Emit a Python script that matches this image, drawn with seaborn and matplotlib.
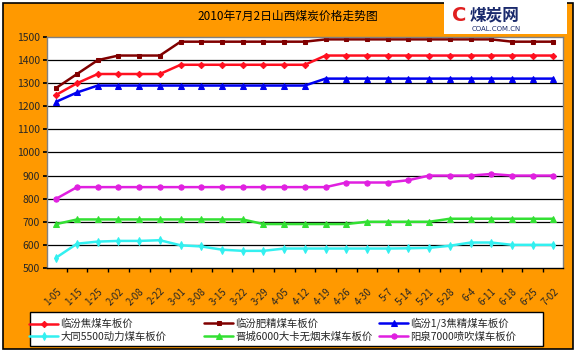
import matplotlib
matplotlib.use("Agg")
import matplotlib.pyplot as plt
import seaborn as sns
import pandas as pd
from matplotlib.patches import Rectangle

dates = ["1-05", "1-15", "1-25", "2-02", "2-08", "2-22", "3-01", "3-08", "3-15", "3-22",
         "3-29", "4-05", "4-12", "4-19", "4-26", "4-30", "5-7", "5-14", "5-21", "5-28",
         "6-4", "6-11", "6-18", "6-25", "7-02"]

linfen_jiao = [1250, 1300, 1340, 1340, 1340, 1340, 1380, 1380, 1380, 1380, 1380, 1380, 1380,
               1420, 1420, 1420, 1420, 1420, 1420, 1420, 1420, 1420, 1420, 1420, 1420]
linfen_fei = [1280, 1340, 1400, 1420, 1420, 1420, 1480, 1480, 1480, 1480, 1480, 1480, 1480,
              1490, 1490, 1490, 1490, 1490, 1490, 1490, 1490, 1490, 1480, 1480, 1480]
linfen_13 = [1220, 1260, 1290, 1290, 1290, 1290, 1290, 1290, 1290, 1290, 1290, 1290, 1290,
             1320, 1320, 1320, 1320, 1320, 1320, 1320, 1320, 1320, 1320, 1320, 1320]
datong = [545, 605, 614, 617, 617, 620, 598, 593, 579, 574, 574, 584, 584,
          584, 584, 584, 584, 585, 587, 596, 610, 610, 600, 600, 600]
jincheng = [690, 710, 710, 710, 710, 710, 710, 710, 710, 710, 690, 690, 690,
            690, 690, 700, 700, 700, 700, 713, 713, 713, 713, 713, 713]
yangquan = [800, 850, 850, 850, 850, 850, 850, 850, 850, 850, 850, 850, 850,
            850, 870, 870, 870, 880, 900, 900, 900, 907, 900, 900, 900]

series_names = ["临汾焦煤车板价", "临汾肥精煤车板价", "临汾1/3焦精煤车板价",
                "大同5500动力煤车板价", "晋城6000大卡无烟末煤车板价", "阳泉7000喷吹煤车板价"]
series_values = [linfen_jiao, linfen_fei, linfen_13, datong, jincheng, yangquan]
colors = ["#FF1020", "#800000", "#0000F0", "#33F0F0", "#33E033", "#E020E0"]
markers = ["D", "s", "^", "d", "^", "o"]
msizes = [3.2, 3.0, 4.2, 3.8, 4.2, 3.8]

title = "2010年7月2日山西煤炭价格走势图"
yticks = list(range(500, 1501, 100))

sns.set_theme(style="white")
plt.rcParams['font.family'] = ['Noto Sans CJK SC', 'DejaVu Sans']

W, H = 576, 353
fig = plt.figure(figsize=(W / 100, H / 100), dpi=100)
fig.patch.set_facecolor("white")
bg = Rectangle((0.006, 0.01), 0.989, 0.982, transform=fig.transFigure,
               facecolor="#FF9900", edgecolor="black", linewidth=1.2, zorder=-10)
fig.patches.append(bg)
logo = Rectangle((0.770, 0.905), 0.214, 0.09, transform=fig.transFigure,
                 facecolor="white", edgecolor="none", zorder=-9)
fig.patches.append(logo)
# legend frame
legframe = Rectangle((30 / W, 1 - 346 / H), 513 / W, 34 / H, transform=fig.transFigure,
                     facecolor="white", edgecolor="black", linewidth=1.0, zorder=-8)
fig.patches.append(legframe)

ax = fig.add_axes([0.0816, 0.241, 0.8954, 0.654])
ax.set_zorder(5)
ax.set_facecolor("white")

x = list(range(len(dates)))
handles = []
for name, vals, c, m, ms in zip(series_names, series_values, colors, markers, msizes):
    df = pd.DataFrame({"x": x, "y": vals})
    sns.lineplot(data=df, x="x", y="y", ax=ax, color=c, marker=m, markersize=ms,
                 markeredgecolor=c, linewidth=1.8, label=name, legend=False)
    handles.append(ax.lines[-1])

ax.set_xlim(-0.45, 24.45)
ax.set_ylim(500, 1500)
ax.set_yticks(yticks)
ax.set_yticklabels([str(v) for v in yticks], fontsize=7.5)
for v in yticks[1:-1]:
    ax.axhline(v, color="black", linewidth=0.9, zorder=0.5)
ax.set_xticks(x)
ax.set_xticklabels(dates, rotation=45, ha="right", rotation_mode="anchor", fontsize=7)
ax.set_xticks([i + 0.5 for i in x[:-1]], minor=True)
ax.tick_params(axis="x", which="major", length=0, pad=13)
ax.tick_params(axis="x", which="minor", length=3, direction="out", color="black", bottom=True)
ax.tick_params(axis="y", length=3, direction="out", color="black", left=True, pad=2)
ax.set_xlabel("")
ax.set_ylabel("")
for s in ax.spines.values():
    s.set_color("#808080")
    s.set_linewidth(1.0)
ax.spines["bottom"].set_color("black")

fig.text(0.5, 0.955, title, ha="center", va="center", fontsize=8.5, color="black")
fig.text(0.858, 0.955, "煤炭网", ha="center", va="center", fontsize=12, fontweight="bold",
         color="#1a2a6c")
fig.text(0.862, 0.918, "COAL.COM.CN", ha="center", va="center", fontsize=5, color="#1a2a6c",
         family=["DejaVu Sans"])
fig.text(0.798, 0.955, "C", ha="center", va="center", fontsize=14, fontweight="bold",
         color="#E02020", family=["DejaVu Sans"])

# three legend columns, each 175 px wide as in the reference
col_x = [26, 201, 376]
for ci, (i_top, i_bot) in enumerate([(0, 3), (1, 4), (2, 5)]):
    lg = fig.legend([handles[i_top], handles[i_bot]],
                    [series_names[i_top], series_names[i_bot]],
                    loc="lower left", bbox_to_anchor=(col_x[ci] / W, 1 - 345 / H),
                    ncol=1, fontsize=7.5, frameon=False, borderaxespad=0,
                    handlelength=2.8, handletextpad=0.2, labelspacing=0.25, borderpad=0.3)
    lg.set_zorder(6)

fig.savefig("out.png", dpi=100, facecolor=fig.get_facecolor())
